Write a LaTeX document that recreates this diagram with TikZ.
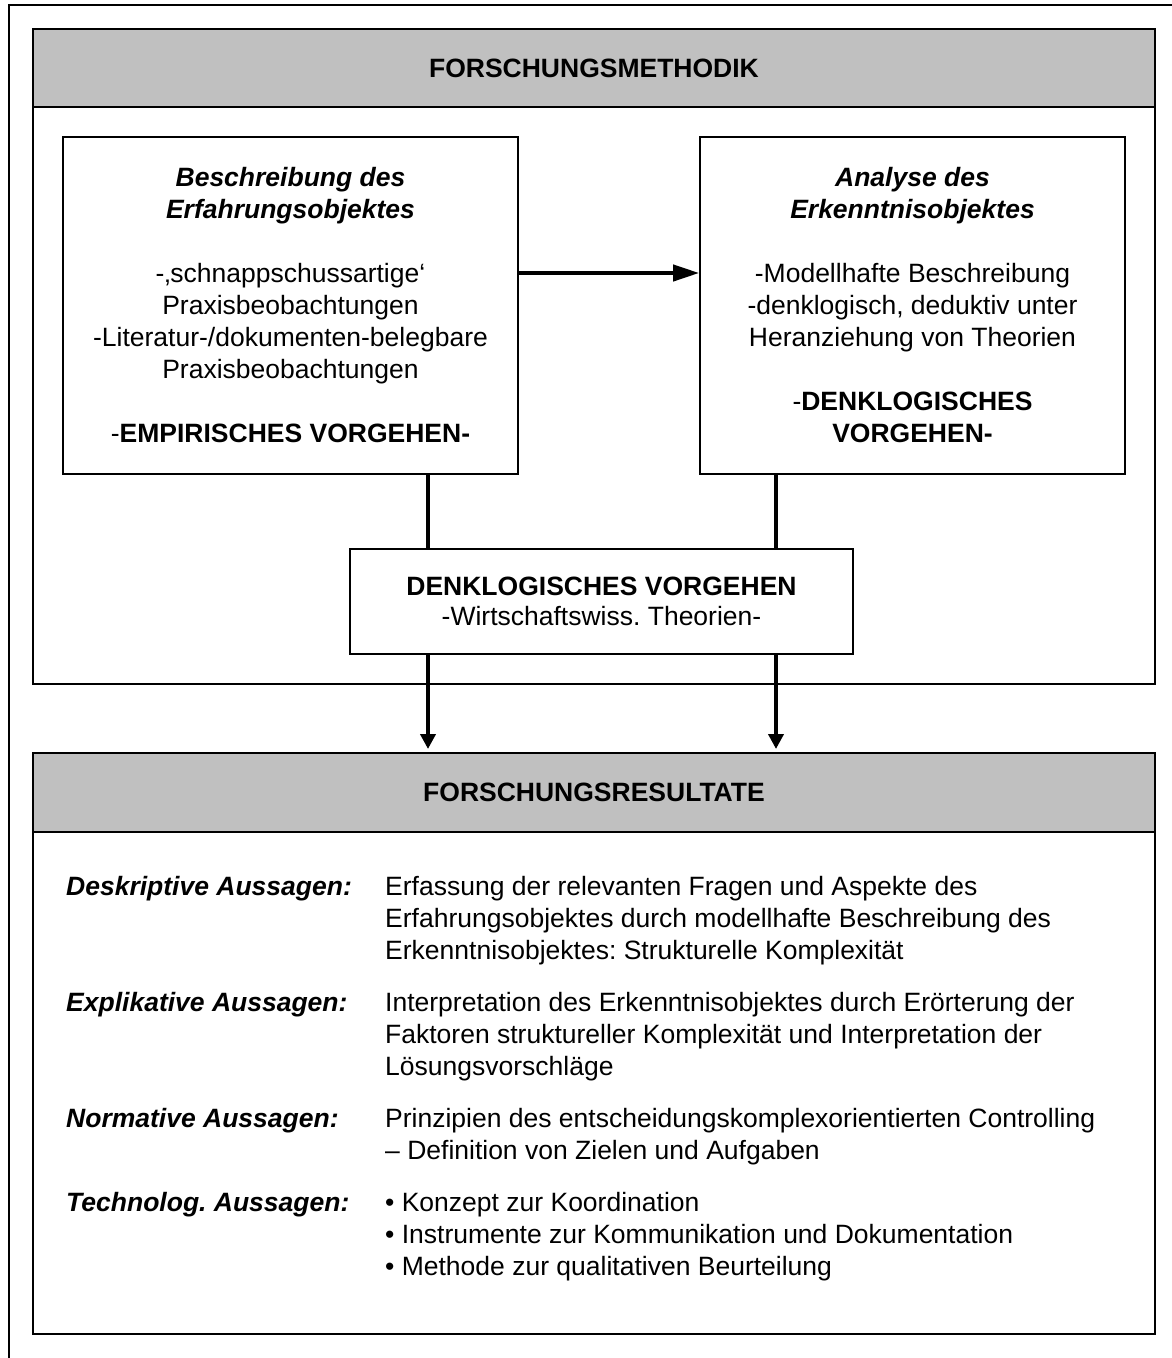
\documentclass[tikz,border=0pt]{standalone}
\usepackage{fontspec}
\setmainfont{Liberation Sans}
\usetikzlibrary{arrows.meta}
\definecolor{headgray}{RGB}{192,192,192}
\frenchspacing

\begin{document}
\begin{tikzpicture}[x=1pt,y=-1pt,
  base font/.style={font=\fontsize{26.5pt}{32pt}\selectfont},
  band/.style={draw, line width=2pt, fill=headgray, minimum width=1122pt,
    inner sep=0pt, font=\fontsize{26.5pt}{32pt}\selectfont\bfseries},
  panel/.style={draw, line width=2pt, minimum width=1122pt, inner sep=0pt},
  stepbox/.style={draw, line width=1.6pt, inner sep=0pt, align=center, base font},
  link/.style={line width=3.5pt},
  flow/.style={line width=4pt, -{Triangle[length=15pt,width=15pt]}, shorten >=3pt},
  lbl/.style={anchor=base west, inner sep=0pt,
    font=\fontsize{26.5pt}{32pt}\selectfont\bfseries\itshape},
  desc/.style={anchor=north west, inner sep=0pt, align=left, base font},
]
\useasboundingbox (0,0) rectangle (1171,1358);
\fill[white] (0,0) rectangle (1171,1358);
\draw[line width=1.6pt] (9,1362) |- (1175,5);

% upper section: research method
\node[panel, minimum height=577pt] (mbody) at (594,395.5) {};
\node[band, minimum height=78pt] (mhead) at (594,68) {FORSCHUNGSMETHODIK};

\node[stepbox, minimum width=455pt, minimum height=337pt] (erf) at (290.5,305.5)
  {\textbf{\textit{Beschreibung des}}\\\textbf{\textit{Erfahrungsobjektes}}\\[32pt]
   -‚schnappschussartige‘\\Praxisbeobachtungen\\-Literatur-/dokumenten-belegbare\\Praxisbeobachtungen\\[32pt]
   -\textbf{EMPIRISCHES VORGEHEN-}};

\node[stepbox, minimum width=425pt, minimum height=337pt] (erk) at (912.5,305.5)
  {\textbf{\textit{Analyse des}}\\\textbf{\textit{Erkenntnisobjektes}}\\[32pt]
   -Modellhafte Beschreibung\\-denklogisch, deduktiv unter\\Heranziehung von Theorien\\[32pt]
   -\textbf{DENKLOGISCHES}\\\textbf{VORGEHEN-}};

\node[stepbox, fill=white, minimum width=503pt, minimum height=105pt] (denk) at (601.5,601.5)
  {\textbf{DENKLOGISCHES VORGEHEN}\\[-2pt]-Wirtschaftswiss. Theorien-};

% lower section: research results
\node[panel, minimum height=502pt] (rbody) at (594,1083) {};
\node[band, minimum height=79pt] (rhead) at (594,792.5) {FORSCHUNGSRESULTATE};

% connectors
\coordinate (lx) at (428,0);
\coordinate (rx) at (776,0);
\coordinate (ay) at (0,273);
\draw[line width=4pt, -{Triangle[length=26pt,width=16pt]}] (erf.east |- ay) -- (erk.west |- ay);
\draw[link] (erf.south -| lx) -- (denk.north -| lx);
\draw[link] (erk.south -| rx) -- (denk.north -| rx);
\draw[flow] (denk.south -| lx) -- (rhead.north -| lx);
\draw[flow] (denk.south -| rx) -- (rhead.north -| rx);

% statements
\node[lbl] (l1) at (66,895) {Deskriptive Aussagen:};
\node[desc] (d1) at (385,872.6) {\strut Erfassung der relevanten Fragen und Aspekte des\\Erfahrungsobjektes durch modellhafte Beschreibung des\\Erkenntnisobjektes: Strukturelle Komplexität};

\node[lbl] (l2) at (66,1011) {Explikative Aussagen:};
\node[desc] (d2) at (385,988.6) {\strut Interpretation des Erkenntnisobjektes durch Erörterung der\\Faktoren struktureller Komplexität und Interpretation der\\Lösungsvorschläge};

\node[lbl] (l3) at (66,1127) {Normative Aussagen:};
\node[desc] (d3) at (385,1104.6) {\strut Prinzipien des entscheidungskomplexorientierten Controlling\\– Definition von Zielen und Aufgaben};

\node[lbl] (l4) at (66,1211) {Technolog. Aussagen:};
\node[desc] (d4) at (385,1188.6) {\strut • Konzept zur Koordination\\• Instrumente zur Kommunikation und Dokumentation\\• Methode zur qualitativen Beurteilung};
\end{tikzpicture}
\end{document}
